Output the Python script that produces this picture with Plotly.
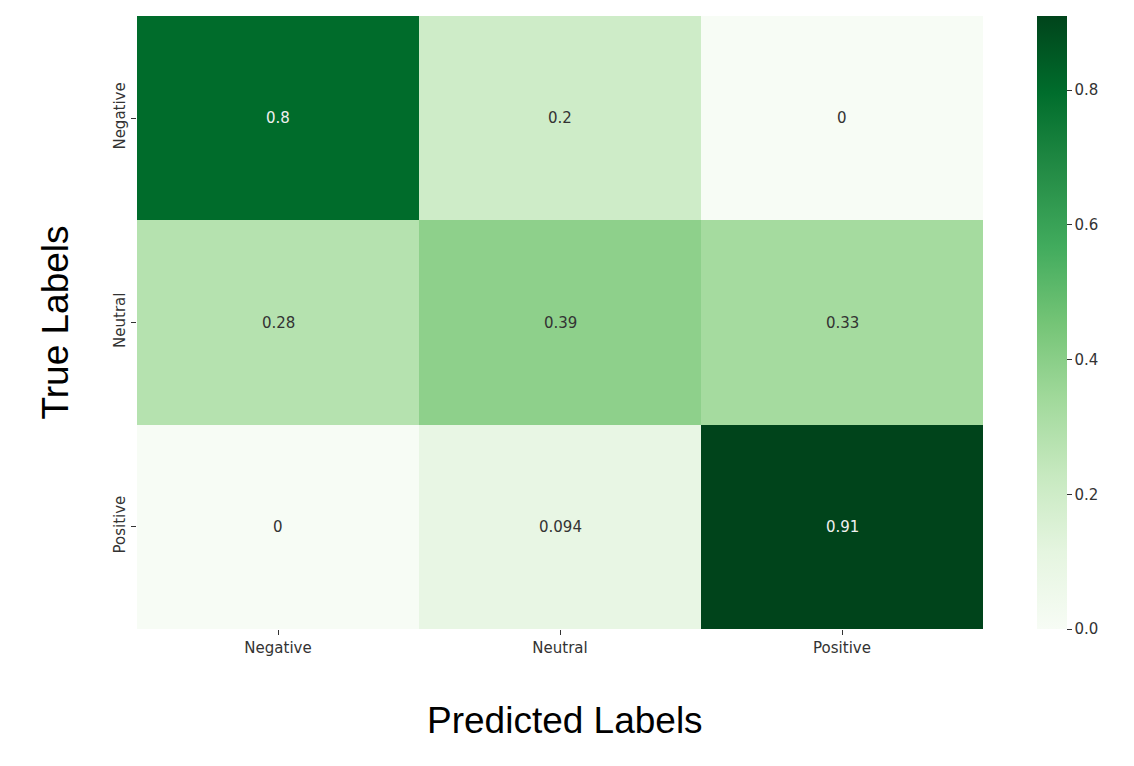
import plotly.graph_objects as go
import plotly.express as px

# -----------------------------
# Data
# -----------------------------
pred_labels = ["Negative", "Neutral", "Positive"]
true_labels = ["Negative", "Neutral", "Positive"]
cm_values = [
    [0.8, 0.2, 0.0],
    [0.28, 0.39, 0.33],
    [0.0, 0.094, 0.91],
]
cm_text = [
    ["0.8", "0.2", "0"],
    ["0.28", "0.39", "0.33"],
    ["0", "0.094", "0.91"],
]
cbar_ticks = [0.0, 0.2, 0.4, 0.6, 0.8]

zmax = max(max(r) for r in cm_values)

# plot area in page pixels (page has an 8px body margin)
PL, PR, PT, PB = 137, 983, 16, 629
PW, PH = PR - PL, PB - PT
TICK_FONT = dict(family="DejaVu Sans", size=15, color="#333333")

# -----------------------------
# Figure
# -----------------------------
fig = go.Figure(
    go.Heatmap(
        z=cm_values,
        x=pred_labels,
        y=true_labels,
        colorscale=px.colors.sequential.Greens,
        zmin=0,
        zmax=zmax,
        colorbar=dict(
            x=1 + (1037 - PR) / PW,
            xanchor="left",
            xpad=0,
            y=0.5,
            len=1,
            lenmode="fraction",
            ypad=0,
            thickness=30,
            outlinewidth=0,
            tickvals=cbar_ticks,
            tickformat=".1f",
            ticks="outside",
            ticklen=5,
            tickcolor="#333333",
            tickfont=TICK_FONT,
        ),
    )
)

# cell annotations, white on dark cells
for i, t in enumerate(true_labels):
    for j, p in enumerate(pred_labels):
        v = cm_values[i][j]
        fig.add_annotation(
            x=p, y=t, text=cm_text[i][j], showarrow=False,
            font=dict(family="DejaVu Sans", size=15,
                      color="#f0f0f0" if v / zmax > 0.6 else "#333333"),
        )

# axis titles
fig.add_annotation(
    x=(55 - PL) / PW, y=0.5, xref="paper", yref="paper", text="True Labels",
    showarrow=False, textangle=-90, xanchor="center", yanchor="middle",
    font=dict(family="Liberation Sans", size=37, color="black"),
)
fig.add_annotation(
    x=(565 - PL) / PW, y=-(720 - PB) / PH, xref="paper", yref="paper",
    text="Predicted Labels", showarrow=False, xanchor="center", yanchor="middle",
    font=dict(family="Liberation Sans", size=37, color="black"),
)

fig.update_xaxes(
    ticks="outside", ticklen=5, tickcolor="#333333", showgrid=False, zeroline=False,
    tickfont=TICK_FONT,
)
fig.update_yaxes(
    autorange="reversed", ticks="outside", ticklen=5, tickcolor="#333333",
    showgrid=False, zeroline=False, tickangle=-90, tickfont=TICK_FONT,
)

fig.update_layout(
    width=1134,
    height=766,
    margin=dict(l=PL - 8, r=1134 - PR + 8, t=PT - 8, b=766 - PB + 8),
    plot_bgcolor="white",
    paper_bgcolor="white",
)

fig.write_html("out.html")
